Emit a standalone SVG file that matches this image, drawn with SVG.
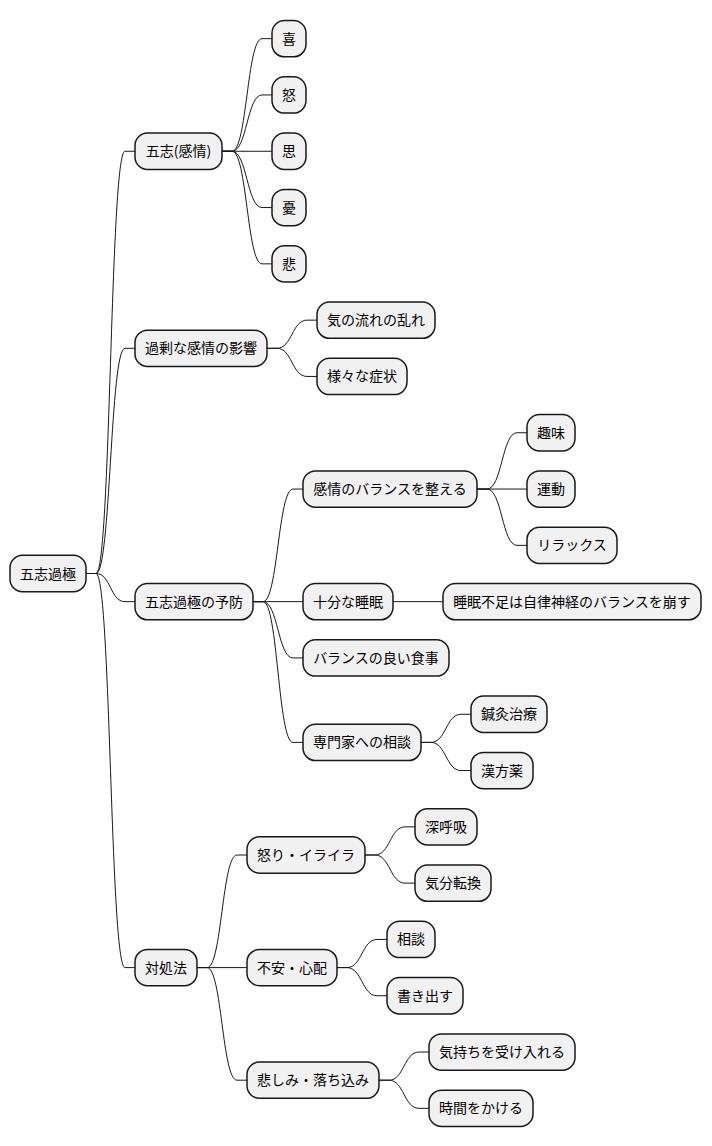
<svg xmlns="http://www.w3.org/2000/svg" width="712" height="1146" viewBox="0 0 712 1146">
<style>
.n rect{fill:#F1F1F1;stroke:#181818;stroke-width:1.5}
.n text{font-family:"Noto Sans CJK JP","Noto Sans",sans-serif;font-size:14px;fill:#000;text-anchor:middle}
.e path{fill:none;stroke:#181818;stroke-width:1}
</style>
<rect width="712" height="1146" fill="#FFFFFF"/>
<g class="e" id="connectors">
<path d="M86,573.5 L96,573.5 C111,573.5 110,151.25 125,151.25 L135,151.25"/>
<path d="M86,573.5 L96,573.5 C111,573.5 110,348.3 125,348.3 L135,348.3"/>
<path d="M86,573.5 L96,573.5 C111,573.5 110,601.65 125,601.65 L135,601.65"/>
<path d="M86,573.5 L96,573.5 C111,573.5 110,967.6 125,967.6 L135,967.6"/>
<path d="M222,151.25 L232,151.25 C247,151.25 247,38.65 262,38.65 L272,38.65"/>
<path d="M222,151.25 L232,151.25 C247,151.25 247,94.95 262,94.95 L272,94.95"/>
<path d="M222,151.25 L272,151.25"/>
<path d="M222,151.25 L232,151.25 C247,151.25 247,207.55 262,207.55 L272,207.55"/>
<path d="M222,151.25 L232,151.25 C247,151.25 247,263.85 262,263.85 L272,263.85"/>
<path d="M267,348.3 L277,348.3 C292,348.3 292,320.15 307,320.15 L317,320.15"/>
<path d="M267,348.3 L277,348.3 C292,348.3 292,376.45 307,376.45 L317,376.45"/>
<path d="M253,601.65 L263,601.65 C278,601.65 278,489.05 293,489.05 L303,489.05"/>
<path d="M253,601.65 L303,601.65"/>
<path d="M253,601.65 L263,601.65 C278,601.65 278,657.95 293,657.95 L303,657.95"/>
<path d="M253,601.65 L263,601.65 C278,601.65 278,742.4 293,742.4 L303,742.4"/>
<path d="M477,489.05 L487,489.05 C502,489.05 502,432.75 517,432.75 L527,432.75"/>
<path d="M477,489.05 L527,489.05"/>
<path d="M477,489.05 L487,489.05 C502,489.05 502,545.35 517,545.35 L527,545.35"/>
<path d="M393,601.65 L443,601.65"/>
<path d="M421,742.4 L431,742.4 C446,742.4 446,714.25 461,714.25 L471,714.25"/>
<path d="M421,742.4 L431,742.4 C446,742.4 446,770.55 461,770.55 L471,770.55"/>
<path d="M197,967.6 L207,967.6 C222,967.6 222,855 237,855 L247,855"/>
<path d="M197,967.6 L247,967.6"/>
<path d="M197,967.6 L207,967.6 C222,967.6 222,1080.2 237,1080.2 L247,1080.2"/>
<path d="M365,855 L375,855 C390,855 390,826.85 405,826.85 L415,826.85"/>
<path d="M365,855 L375,855 C390,855 390,883.15 405,883.15 L415,883.15"/>
<path d="M337,967.6 L347,967.6 C362,967.6 362,939.45 377,939.45 L387,939.45"/>
<path d="M337,967.6 L347,967.6 C362,967.6 362,995.75 377,995.75 L387,995.75"/>
<path d="M379,1080.2 L389,1080.2 C404,1080.2 404,1052.05 419,1052.05 L429,1052.05"/>
<path d="M379,1080.2 L389,1080.2 C404,1080.2 404,1108.35 419,1108.35 L429,1108.35"/>
</g>
<g class="n" id="root"><rect x="10" y="555.35" width="76" height="36.3" rx="12.5"/><text x="48" y="578.5">五志過極</text></g>
<g class="n" id="n1"><rect x="135" y="133.1" width="87" height="36.3" rx="12.5"/><text x="178.5" y="156.25">五志(感情)</text></g>
<g class="n" id="n1a"><rect x="272" y="20.5" width="34" height="36.3" rx="12.5"/><text x="289" y="43.65">喜</text></g>
<g class="n" id="n1b"><rect x="272" y="76.8" width="34" height="36.3" rx="12.5"/><text x="289" y="99.95">怒</text></g>
<g class="n" id="n1c"><rect x="272" y="133.1" width="34" height="36.3" rx="12.5"/><text x="289" y="156.25">思</text></g>
<g class="n" id="n1d"><rect x="272" y="189.4" width="34" height="36.3" rx="12.5"/><text x="289" y="212.55">憂</text></g>
<g class="n" id="n1e"><rect x="272" y="245.7" width="34" height="36.3" rx="12.5"/><text x="289" y="268.85">悲</text></g>
<g class="n" id="n2"><rect x="135" y="330.15" width="132" height="36.3" rx="12.5"/><text x="201" y="353.3">過剰な感情の影響</text></g>
<g class="n" id="n2a"><rect x="317" y="302" width="118" height="36.3" rx="12.5"/><text x="376" y="325.15">気の流れの乱れ</text></g>
<g class="n" id="n2b"><rect x="317" y="358.3" width="90" height="36.3" rx="12.5"/><text x="362" y="381.45">様々な症状</text></g>
<g class="n" id="n3"><rect x="135" y="583.5" width="118" height="36.3" rx="12.5"/><text x="194" y="606.65">五志過極の予防</text></g>
<g class="n" id="n3a"><rect x="303" y="470.9" width="174" height="36.3" rx="12.5"/><text x="390" y="494.05">感情のバランスを整える</text></g>
<g class="n" id="n3a1"><rect x="527" y="414.6" width="48" height="36.3" rx="12.5"/><text x="551" y="437.75">趣味</text></g>
<g class="n" id="n3a2"><rect x="527" y="470.9" width="48" height="36.3" rx="12.5"/><text x="551" y="494.05">運動</text></g>
<g class="n" id="n3a3"><rect x="527" y="527.2" width="90" height="36.3" rx="12.5"/><text x="572" y="550.35">リラックス</text></g>
<g class="n" id="n3b"><rect x="303" y="583.5" width="90" height="36.3" rx="12.5"/><text x="348" y="606.65">十分な睡眠</text></g>
<g class="n" id="n3b1"><rect x="443" y="583.5" width="258" height="36.3" rx="12.5"/><text x="572" y="606.65">睡眠不足は自律神経のバランスを崩す</text></g>
<g class="n" id="n3c"><rect x="303" y="639.8" width="146" height="36.3" rx="12.5"/><text x="376" y="662.95">バランスの良い食事</text></g>
<g class="n" id="n3d"><rect x="303" y="724.25" width="118" height="36.3" rx="12.5"/><text x="362" y="747.4">専門家への相談</text></g>
<g class="n" id="n3d1"><rect x="471" y="696.1" width="76" height="36.3" rx="12.5"/><text x="509" y="719.25">鍼灸治療</text></g>
<g class="n" id="n3d2"><rect x="471" y="752.4" width="62" height="36.3" rx="12.5"/><text x="502" y="775.55">漢方薬</text></g>
<g class="n" id="n4"><rect x="135" y="949.45" width="62" height="36.3" rx="12.5"/><text x="166" y="972.6">対処法</text></g>
<g class="n" id="n4a"><rect x="247" y="836.85" width="118" height="36.3" rx="12.5"/><text x="306" y="860">怒り・イライラ</text></g>
<g class="n" id="n4a1"><rect x="415" y="808.7" width="62" height="36.3" rx="12.5"/><text x="446" y="831.85">深呼吸</text></g>
<g class="n" id="n4a2"><rect x="415" y="865" width="76" height="36.3" rx="12.5"/><text x="453" y="888.15">気分転換</text></g>
<g class="n" id="n4b"><rect x="247" y="949.45" width="90" height="36.3" rx="12.5"/><text x="292" y="972.6">不安・心配</text></g>
<g class="n" id="n4b1"><rect x="387" y="921.3" width="48" height="36.3" rx="12.5"/><text x="411" y="944.45">相談</text></g>
<g class="n" id="n4b2"><rect x="387" y="977.6" width="76" height="36.3" rx="12.5"/><text x="425" y="1000.75">書き出す</text></g>
<g class="n" id="n4c"><rect x="247" y="1062.05" width="132" height="36.3" rx="12.5"/><text x="313" y="1085.2">悲しみ・落ち込み</text></g>
<g class="n" id="n4c1"><rect x="429" y="1033.9" width="146" height="36.3" rx="12.5"/><text x="502" y="1057.05">気持ちを受け入れる</text></g>
<g class="n" id="n4c2"><rect x="429" y="1090.2" width="104" height="36.3" rx="12.5"/><text x="481" y="1113.35">時間をかける</text></g>
</svg>
